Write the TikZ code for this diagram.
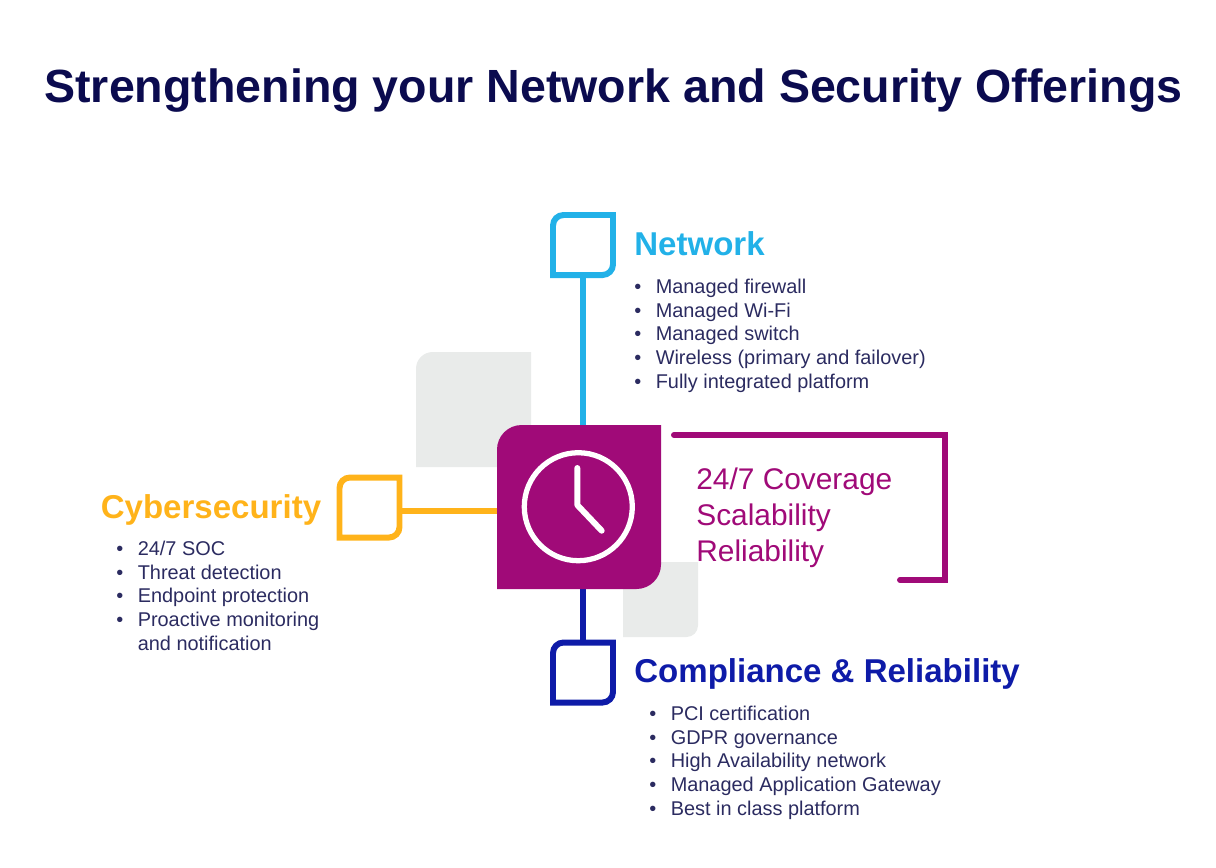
\documentclass[tikz,border=0pt]{standalone}
\usepackage{fontspec}
\setmainfont{Liberation Sans}
\usepackage{xcolor}
\usetikzlibrary{positioning}

\definecolor{titleblue}{HTML}{0B0B4F}
\definecolor{listblue}{HTML}{2B2B60}
\definecolor{netcyan}{HTML}{22B1E8}
\definecolor{cyberamber}{HTML}{FFB31A}
\definecolor{compblue}{HTML}{0E1BA8}
\definecolor{hubpurple}{HTML}{A00A78}
\definecolor{softgray}{HTML}{E9EBEA}

% square with the top left and bottom right corners rounded
\newcommand{\leafshape}[2]{%
  \draw [#2, line width=3.4pt]
    (#1.north east) [rounded corners=6pt] -- (#1.north west)
    [sharp corners] -- (#1.south west) [rounded corners=6pt] -- (#1.south east)
    [sharp corners] -- (#1.north east) -- cycle;
}

\begin{document}
\begin{tikzpicture}[
    x=0.02cm,
    y=-0.02cm,
    leaf/.style={
		rectangle,
		minimum size=60*0.02cm,
		inner sep=0pt,
		outer sep=0pt
	},
	link/.style={
		line width=3.4pt
	},
	heading/.style={
		anchor=base west,
		inner sep=0pt,
		font=\fontsize{18.8}{22}\selectfont\bfseries
	},
	listing/.style={
		anchor=north west,
		inner sep=0pt,
		text=listblue,
		font=\fontsize{11.33}{13.46}\selectfont
	}
  ]
  \useasboundingbox (0,0) rectangle (1216,867);

  % background squares
  \fill [softgray] (531,352) [rounded corners=9.5pt] -- (416,352) [sharp corners] -- (416,467) -- (531,467) -- cycle;
  \fill [softgray] (623,562) -- (698,562) [rounded corners=6.5pt] -- (698,637) [sharp corners] -- (623,637) -- cycle;

  \node [anchor=base, inner sep=0pt, text=titleblue, font=\fontsize{26.5}{30}\selectfont\bfseries] (title) at (613.5,102)
    {Strengthening your Network and Security Offerings};

  % blocks
  \node [leaf] (netbox) at (583,245) {};
  \node [leaf] (cyberbox) at (369.5,507.5) {};
  \node [leaf] (compbox) at (583,672.5) {};
  \node [rectangle, minimum size=164*0.02cm, inner sep=0pt, outer sep=0pt] (hub) at (579,507) {};

  % connectors
  \draw [link, netcyan] (netbox.south) -- (netbox.south |- hub.north);
  \draw [link, compblue] (compbox.north) -- (compbox.north |- hub.south);
  \draw [link, cyberamber] ([yshift=-3*0.02cm]cyberbox.east) -- ([yshift=-3*0.02cm]cyberbox.east -| hub.west);

  \leafshape{netbox}{netcyan}
  \leafshape{cyberbox}{cyberamber}
  \leafshape{compbox}{compblue}

  \fill [hubpurple] (hub.north east) [rounded corners=14pt] -- (hub.north west)
    [sharp corners] -- (hub.south west) [rounded corners=14pt] -- (hub.south east)
    [sharp corners] -- (hub.north east) -- cycle;

  % clock
  \node [circle, draw=white, line width=3pt, minimum size=108*0.02cm, inner sep=0pt] (clock) at (578.3,506.7) {};
  \coordinate (handtop) at (577.3,468);
  \coordinate (handmid) at (577.3,505);
  \coordinate (handend) at (601.7,530.7);
  \draw [white, line width=3.4pt, line cap=round, line join=round] (handtop) -- (handmid) -- (handend);

  % bracket
  \coordinate (brackstart) at (674,435);
  \coordinate (brackcorner) at (945,435);
  \coordinate (brackend) at (900,580);
  \draw [hubpurple, line width=3.4pt, line cap=round] (brackstart) -- (brackcorner) -- (brackcorner |- brackend) -- (brackend);

  \node [anchor=north west, inner sep=0pt, text=hubpurple, font=\fontsize{17}{20.4}\selectfont] (benefits) at (696,464)
 {%
 \begin{tabular}{@{}l@{}}
  24/7 Coverage\\
  Scalability\\
  Reliability
 \end{tabular}
 };

  % headings and lists
  \node [heading, text=netcyan] (nethead) at (634,255.5) {Network};
  \node [listing] (netlist) at (634,276.5)
 {%
 \begin{tabular}{@{}p{12.2pt}@{}l@{}}
  \textbullet & Managed firewall\\
  \textbullet & Managed Wi-Fi\\
  \textbullet & Managed switch\\
  \textbullet & Wireless (primary and failover)\\
  \textbullet & Fully integrated platform
 \end{tabular}
 };

  \node [heading, text=cyberamber] (cyberhead) at (100.5,518) {Cybersecurity};
  \node [listing] (cyberlist) at (116,538.5)
 {%
 \begin{tabular}{@{}p{12.2pt}@{}l@{}}
  \textbullet & 24/7 SOC\\
  \textbullet & Threat detection\\
  \textbullet & Endpoint protection\\
  \textbullet & Proactive monitoring\\
   & and notification
 \end{tabular}
 };

  \node [heading, text=compblue] (comphead) at (634,682) {Compliance \& Reliability};
  \node [listing] (complist) at (649,703.5)
 {%
 \begin{tabular}{@{}p{12.2pt}@{}l@{}}
  \textbullet & PCI certification\\
  \textbullet & GDPR governance\\
  \textbullet & High Availability network\\
  \textbullet & Managed Application Gateway\\
  \textbullet & Best in class platform
 \end{tabular}
 };

\end{tikzpicture}
\end{document}
